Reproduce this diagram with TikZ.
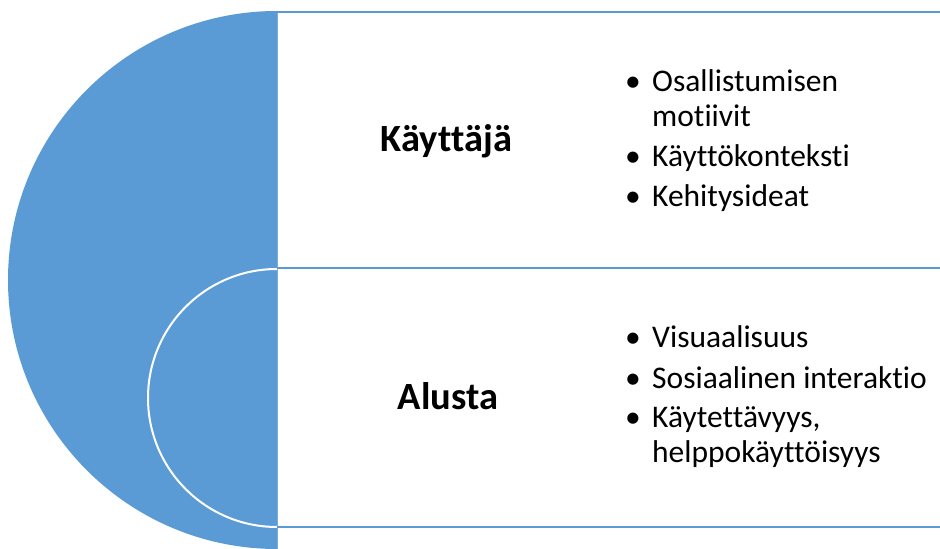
\documentclass[tikz,border=0pt]{standalone}
\usepackage{fontspec}
\setmainfont{Carlito}[Ligatures={NoCommon}]
\definecolor{accent}{HTML}{5B9BD5}
\definecolor{accentlight}{HTML}{7AAEDF}
\begin{document}
\begin{tikzpicture}[x=1pt,y=1pt,
  title/.style={font=\fontsize{38.5}{44}\selectfont\bfseries, inner sep=0pt, anchor=base},
  item/.style={font=\fontsize{31.5}{35}\selectfont, inner sep=0pt, anchor=base west, align=left},
  bul/.style={font=\fontsize{31.5}{35}\selectfont, inner sep=0pt, anchor=base},
  rule/.style={draw=accent, line width=2pt}]
\useasboundingbox (0,0) rectangle (940,549);
% big half disc
\begin{scope}
  \clip (0,0) rectangle (277,549);
  \fill[accent] (277,269) circle[radius=269pt];
\end{scope}
\draw[accentlight, line width=1.2pt] (277.5,0) -- (277.5,537);
% inner white half circle
\begin{scope}
  \clip (0,0) rectangle (277,549);
  \draw[white, line width=2pt] (277,151) circle[radius=129pt];
\end{scope}
% section rules
\draw[rule] (277,537) -- (940,537);
\draw[rule] (277,281) -- (940,281);
\draw[rule] (277,22) -- (940,22);
% titles
\node[title] (t1) at (446.5,397) {Käyttäjä};
\node[title] (t2) at (448,139) {Alusta};
% top list
\node[bul] (b1) at (633,457) {•};
\node[item] (i1) at (652,457) {Osallistumisen};
\node[item] (i1b) at (652,422) {motiivit};
\node[bul] (b2) at (633,382) {•};
\node[item] (i2) at (652,382) {Käyttökonteksti};
\node[bul] (b3) at (633,342) {•};
\node[item] (i3) at (652,342) {Kehitysideat};
% bottom list
\node[bul] (b4) at (633,201) {•};
\node[item] (i4) at (652,201) {Visuaalisuus};
\node[bul] (b5) at (633,160) {•};
\node[item] (i5) at (652,160) {Sosiaalinen interaktio};
\node[bul] (b6) at (633,121) {•};
\node[item] (i6) at (652,121) {Käytettävyys,};
\node[item] (i6b) at (652,86) {helppokäyttöisyys};
\end{tikzpicture}
\end{document}
